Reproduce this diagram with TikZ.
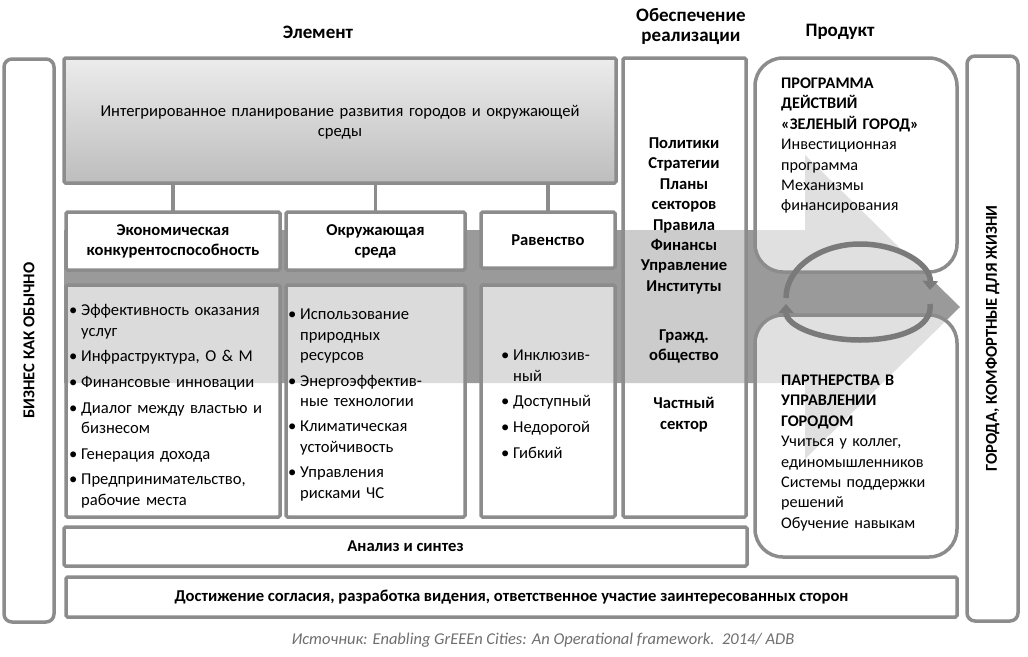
\documentclass[tikz,border=0pt]{standalone}
\usepackage{fontspec}
\setmainfont{Carlito}
\usepackage{xcolor}
\usepackage{tikz}
\usetikzlibrary{arrows.meta,positioning}
\definecolor{frame}{HTML}{8C8C8C}
\definecolor{flow}{HTML}{9A9A9A}
\definecolor{loopgray}{HTML}{7A7A7A}
\definecolor{shadetop}{HTML}{ECECEC}
\definecolor{shadebot}{HTML}{BDBDBD}
\definecolor{sourcegray}{HTML}{6E6E6E}
\newcommand\bodysize{\fontsize{16.6}{20.2}\selectfont}
% bullet item and its continuation line
\newcommand\bpt[1]{\par\vspace{5.5pt}\noindent\makebox[12pt][l]{\strut\textbullet}#1}
\newcommand\cont[1]{\par\noindent\hspace*{12pt}\strut#1}

\begin{document}
\begin{tikzpicture}[
  x=1pt, y=-1pt,
  box/.style={
    rectangle,
    draw=frame,
    line width=3.5pt,
    rounded corners=1.5pt,
    outer sep=0pt,
    anchor=north west,
    align=center,
    font=\bodysize\bfseries
  },
  plan/.style={box,top color=shadetop,bottom color=shadebot,font=\bodysize},
  head/.style={box,fill=white},
  list/.style={box,fill=white,fill opacity=0.65,text opacity=1},
  means/.style={box,fill=white,fill opacity=0.5,text opacity=1},
  product/.style={box,rounded corners=28pt,fill=white,fill opacity=0.7,text opacity=1},
  side/.style={box,rounded corners=8pt,fill=white},
  listtext/.style={anchor=north west,inner sep=0pt,align=left,font=\bodysize},
  title/.style={align=center,inner sep=0pt,font=\fontsize{19}{20}\selectfont\bfseries},
  link/.style={draw=frame,line width=3.5pt},
  loop/.style={draw=loopgray,line width=5.5pt,-{Triangle[length=9pt,width=15pt]}}
]
\useasboundingbox (0,0) rectangle (1028,656);

% column titles
\node[title] (element) at (318,32) {Элемент};
\node[title] (support) at (691,26) {Обеспечение\\реализации};
\node[title] (result) at (840,32) {Продукт};

% flow arrow behind the boxes
\fill[flow] (64,230) -- (805,230) -- (805,155) -- (960,307) -- (805,459)
  -- (805,383) -- (64,383) -- cycle;

% side bars
\node[side,minimum width=50pt,minimum height=563pt] (bau) at (4,59) {};
\node[rotate=90,font=\bodysize\bfseries] (baulabel) at (bau.center) {БИЗНЕС КАК ОБЫЧНО};
\node[side,minimum width=51pt,minimum height=565pt] (livable) at (967,56) {};
\node[rotate=90,font=\bodysize\bfseries] (livablelabel) at (livable.center) {ГОРОДА, КОМФОРТНЫЕ ДЛЯ ЖИЗНИ};

% element column
\node[plan,minimum width=552pt,minimum height=125pt] (planning) at (64,58) {};
\node[align=center,text width=500pt,font=\bodysize] (planlabel) at (340,122)
  {Интегрированное планирование развития городов и окружающей\\среды};

\node[head,minimum width=214pt,minimum height=58pt] (econ) at (66,212) {Экономическая\\конкурентоспособность};
\node[head,minimum width=179pt,minimum height=58pt] (env) at (286,212) {Окружающая\\среда};
\node[head,minimum width=134pt,minimum height=56pt] (equity) at (481,212) {Равенство};

\draw[link] (econ.north) -- (econ.north |- planning.south);
\draw[link] (env.north) -- (env.north |- planning.south);
\draw[link] (equity.north) -- (equity.north |- planning.south);

\node[list,minimum width=214pt,minimum height=232pt] (econlist) at (66,285) {};
\node[list,minimum width=179pt,minimum height=232pt] (envlist) at (286,285) {};
\node[list,minimum width=134pt,minimum height=232pt] (equitylist) at (481,285) {};

\node[listtext,text width=205pt] (econtext) at (69,290) {%
  \bpt{Эффективность оказания}\cont{услуг}
  \bpt{Инфраструктура, О \& М}
  \bpt{Финансовые инновации}
  \bpt{Диалог между властью и}\cont{бизнесом}
  \bpt{Генерация дохода}
  \bpt{Предпринимательство,}\cont{рабочие места}};
\node[listtext,text width=170pt] (envtext) at (288,294) {%
  \bpt{Использование}\cont{природных}\cont{ресурсов}
  \bpt{Энергоэффектив-}\cont{ные технологии}
  \bpt{Климатическая}\cont{устойчивость}
  \bpt{Управления}\cont{рисками ЧС}};
\node[listtext,text width=125pt] (equitytext) at (501,335) {%
  \bpt{Инклюзив-}\cont{ный}
  \bpt{Доступный}
  \bpt{Недорогой}
  \bpt{Гибкий}};

% implementation column
\node[means,minimum width=123pt,minimum height=459pt] (meansbox) at (623,58) {};
\node[anchor=north,inner sep=0pt,align=center,font=\fontsize{16.6}{20.4}\selectfont\bfseries] (meanstext) at (684,134)
  {\strut Политики\\Стратегии\\Планы\\секторов\\Правила\\Финансы\\Управление\\Институты\\[28.6pt]
   Гражд.\\общество\\[27.6pt]Частный\\сектор};

% bottom bands
\node[head,minimum width=683pt,minimum height=39pt] (analysis) at (64,527) {Анализ и синтез};
\node[head,minimum width=891pt,minimum height=40pt] (consensus) at (66,577)
  {Достижение согласия, разработка видения, ответственное участие заинтересованных сторон};

% product column
\node[product,minimum width=202pt,minimum height=214pt] (program) at (755,58) {};
\node[product,minimum width=202pt,minimum height=242pt] (partner) at (755,315) {};
\node[listtext,text width=172pt,font=\fontsize{16.2}{20.4}\selectfont] (programtext) at (781,74)
  {\strut\textbf{ПРОГРАММА}\\\textbf{ДЕЙСТВИЙ}\\\textbf{«ЗЕЛЕНЫЙ ГОРОД»}\\Инвестиционная\\программа\\Механизмы\\финансирования};
\node[listtext,text width=172pt,font=\fontsize{16.2}{20.4}\selectfont] (partnertext) at (781,371)
  {\strut\textbf{ПАРТНЕРСТВА В}\\\textbf{УПРАВЛЕНИИ}\\\textbf{ГОРОДОМ}\\Учиться у коллег,\\единомышленников\\Системы поддержки\\решений\\Обучение навыкам};

% feedback loop between the products
\coordinate (loopw) at (786,298);
\coordinate (loopn) at (860,244);
\coordinate (loope) at (930,290);
\coordinate (loops) at (860,340);
\draw[loop] (loopw) .. controls (786,268) and (820,244) .. (loopn)
  .. controls (900,244) and (931,265) .. (loope);
\draw[loop] ([yshift=-14pt]loope) .. controls (933,327) and (900,340) .. (loops)
  .. controls (820,340) and (786,326) .. ([yshift=-6pt]loopw);

% source line
\node[font=\fontsize{16.5}{19}\selectfont\itshape,text=sourcegray] (sourcenote) at (543,640)
  {Источник: Enabling GrEEEn Cities: An Operational framework.\ \ 2014/ ADB};
\end{tikzpicture}
\end{document}
